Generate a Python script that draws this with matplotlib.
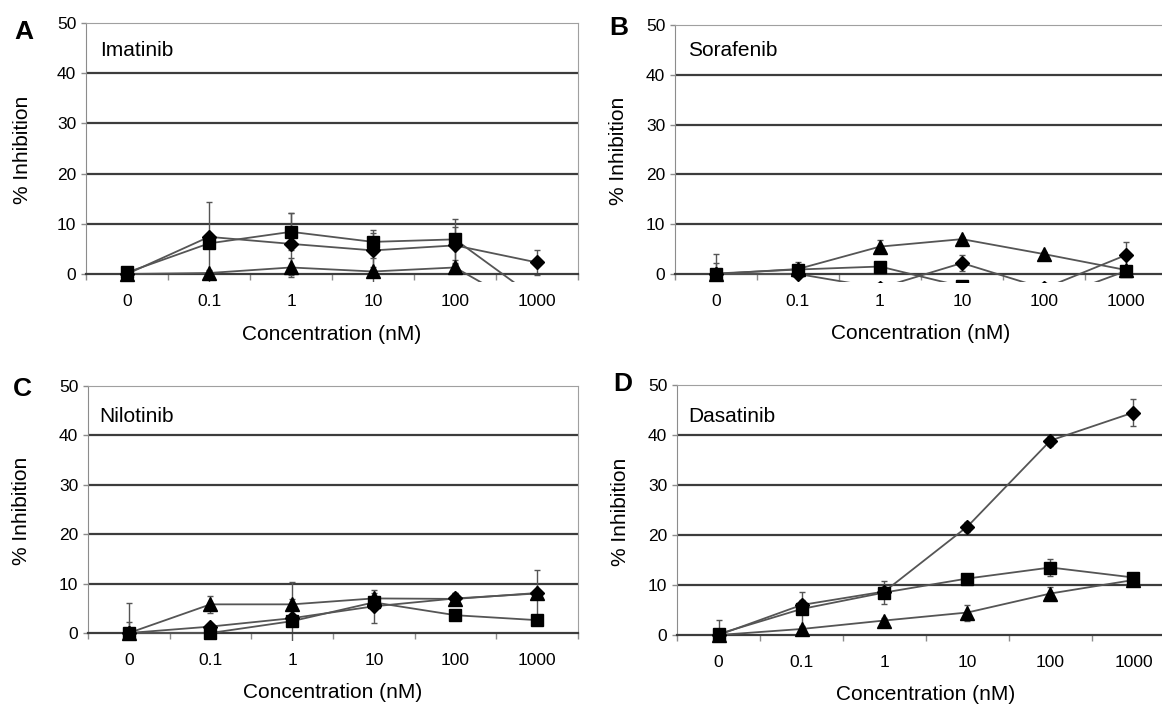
import matplotlib
matplotlib.use('Agg')
import matplotlib.pyplot as plt
import numpy as np

plt.rcParams['font.family'] = ['Liberation Sans', 'DejaVu Sans']

# Concentration categories (nM)
conc_labels = ['0', '0.1', '1', '10', '100', '1000']

# A - Imatinib
imatinib_diamond = [0.0, 7.4, 6.0, 4.7, 5.7, 2.3]
imatinib_diamond_err = [0.5, 0.6, 6.2, 3.4, 3.7, 2.4]
imatinib_square = [0.3, 6.1, 8.4, 6.4, 6.9, -5.0]
imatinib_square_err = [0.5, 8.3, 3.7, 2.4, 4.1, 1.0]
imatinib_triangle = [0.0, 0.2, 1.3, 0.5, 1.3, -8.0]
imatinib_triangle_err = [0.3, 0.5, 1.9, 2.7, 0.8, 1.0]

# B - Sorafenib
sorafenib_diamond = [0.0, 0.0, -2.8, 2.2, -2.9, 3.8]
sorafenib_diamond_err = [0.3, 0.3, 1.0, 1.6, 1.0, 2.7]
sorafenib_square = [0.1, 0.9, 1.5, -2.5, -5.5, 0.6]
sorafenib_square_err = [3.9, 1.5, 0.8, 1.0, 1.0, 0.8]
sorafenib_triangle = [0.0, 1.0, 5.5, 7.0, 4.0, 0.8]
sorafenib_triangle_err = [2.3, 0.5, 1.3, 0.5, 0.5, 0.5]

# C - Nilotinib
nilotinib_diamond = [0.0, 1.3, 3.0, 5.4, 7.0, 8.0]
nilotinib_diamond_err = [6.1, 0.5, 7.4, 3.4, 1.0, 0.5]
nilotinib_square = [0.0, 0.0, 2.4, 6.2, 3.6, 2.6]
nilotinib_square_err = [2.2, 0.5, 0.5, 1.0, 0.5, 0.5]
nilotinib_triangle = [0.0, 5.8, 5.8, 7.0, 6.9, 8.1]
nilotinib_triangle_err = [0.3, 1.7, 1.0, 1.0, 1.2, 4.6]

# D - Dasatinib
dasatinib_diamond = [0.0, 6.0, 8.7, 21.7, 38.9, 44.5]
dasatinib_diamond_err = [0.5, 1.0, 1.0, 1.0, 1.0, 2.7]
dasatinib_square = [0.2, 5.2, 8.5, 11.3, 13.5, 11.5]
dasatinib_square_err = [2.8, 3.4, 2.3, 0.8, 1.7, 0.8]
dasatinib_triangle = [0.0, 1.2, 2.9, 4.5, 8.3, 11.0]
dasatinib_triangle_err = [0.3, 0.5, 0.5, 1.6, 1.3, 0.5]

W, H = 1162, 705
YMIN = -1.6
LINE = '#555555'
GRID = '#3c3c3c'
AXC = '#8c8c8c'

fig = plt.figure(figsize=(W / 100, H / 100), dpi=100)


def panel(left, right, top, zero, letter, letter_xy, drug, drug_xy, ylab_dx, series):
    # pixel box of the plot area -> figure fractions
    ppu = (zero - top) / 50.0
    bottom = zero - YMIN * ppu
    ax = fig.add_axes([left / W, 1 - bottom / H, (right - left) / W, (bottom - top) / H])
    x = np.arange(len(conc_labels))

    for vals, errs, mk, ms in series:
        ax.errorbar(x, vals, yerr=errs, fmt='none', ecolor=LINE, elinewidth=1,
                    capsize=2.5, capthick=1, zorder=2)
        ax.plot(x, vals, color=LINE, lw=1.3, zorder=3)
        ax.plot(x, vals, linestyle='none', marker=mk, ms=ms, color='black',
                mec='black', zorder=4)

    ax.set_xlim(-0.5, 5.5)
    ax.set_ylim(YMIN, 50)
    for g in [10, 20, 30, 40]:
        ax.axhline(g, color=GRID, lw=1.6, zorder=1)

    # category axis sits on y = 0, values below are clipped just under it
    ax.spines['bottom'].set_position(('data', 0))
    ax.spines['bottom'].set_color(GRID)
    ax.spines['bottom'].set_linewidth(1.6)
    ax.spines['top'].set_color('#a0a0a0')
    ax.spines['right'].set_color('#a0a0a0')
    ax.spines['right'].set_bounds(0, 50)
    ax.spines['left'].set_color(AXC)
    ax.spines['left'].set_bounds(0, 50)

    ax.set_xticks(x)
    ax.set_xticklabels(conc_labels)
    ax.set_xticks(np.arange(-0.5, 6.0, 1.0), minor=True)
    ax.tick_params(axis='x', which='major', length=0, pad=14.5, labelsize=12.5)
    ax.tick_params(axis='x', which='minor', length=4, width=1, color=AXC, direction='out')
    ax.set_yticks([0, 10, 20, 30, 40, 50])
    ax.tick_params(axis='y', length=3.5, width=1, color=AXC, pad=3.5, labelsize=12.5)

    ax.set_xlabel('Concentration (nM)', fontsize=15, va='center')
    ax.xaxis.set_label_coords(0.5, -52 / (bottom - top))
    ax.set_ylabel('% Inhibition', fontsize=15, va='center')
    ax.yaxis.set_label_coords(-ylab_dx / (right - left), 0.51)

    fig.text(letter_xy[0] / W, 1 - letter_xy[1] / H, letter, fontsize=19,
             fontweight='bold', ha='center', va='center')
    fig.text(drug_xy[0] / W, 1 - drug_xy[1] / H, drug, fontsize=15, ha='left',
             va='center')
    return ax


panel(86, 578, 23, 274, 'A', (24, 32), 'Imatinib', (100, 50), 63,
      [(imatinib_triangle, imatinib_triangle_err, '^', 9.5),
       (imatinib_diamond, imatinib_diamond_err, 'D', 7),
       (imatinib_square, imatinib_square_err, 's', 9)])

panel(675, 1167, 25, 274, 'B', (619, 28), 'Sorafenib', (688, 50), 56,
      [(sorafenib_triangle, sorafenib_triangle_err, '^', 9.5),
       (sorafenib_diamond, sorafenib_diamond_err, 'D', 7),
       (sorafenib_square, sorafenib_square_err, 's', 9)])

panel(88, 578, 386, 633, 'C', (22, 389), 'Nilotinib', (99, 417), 66,
      [(nilotinib_triangle, nilotinib_triangle_err, '^', 9.5),
       (nilotinib_diamond, nilotinib_diamond_err, 'D', 7),
       (nilotinib_square, nilotinib_square_err, 's', 9)])

panel(677, 1175, 385, 635, 'D', (623, 384), 'Dasatinib', (688, 417), 56,
      [(dasatinib_triangle, dasatinib_triangle_err, '^', 9.5),
       (dasatinib_diamond, dasatinib_diamond_err, 'D', 7),
       (dasatinib_square, dasatinib_square_err, 's', 9)])

fig.savefig('out.png', dpi=100)
